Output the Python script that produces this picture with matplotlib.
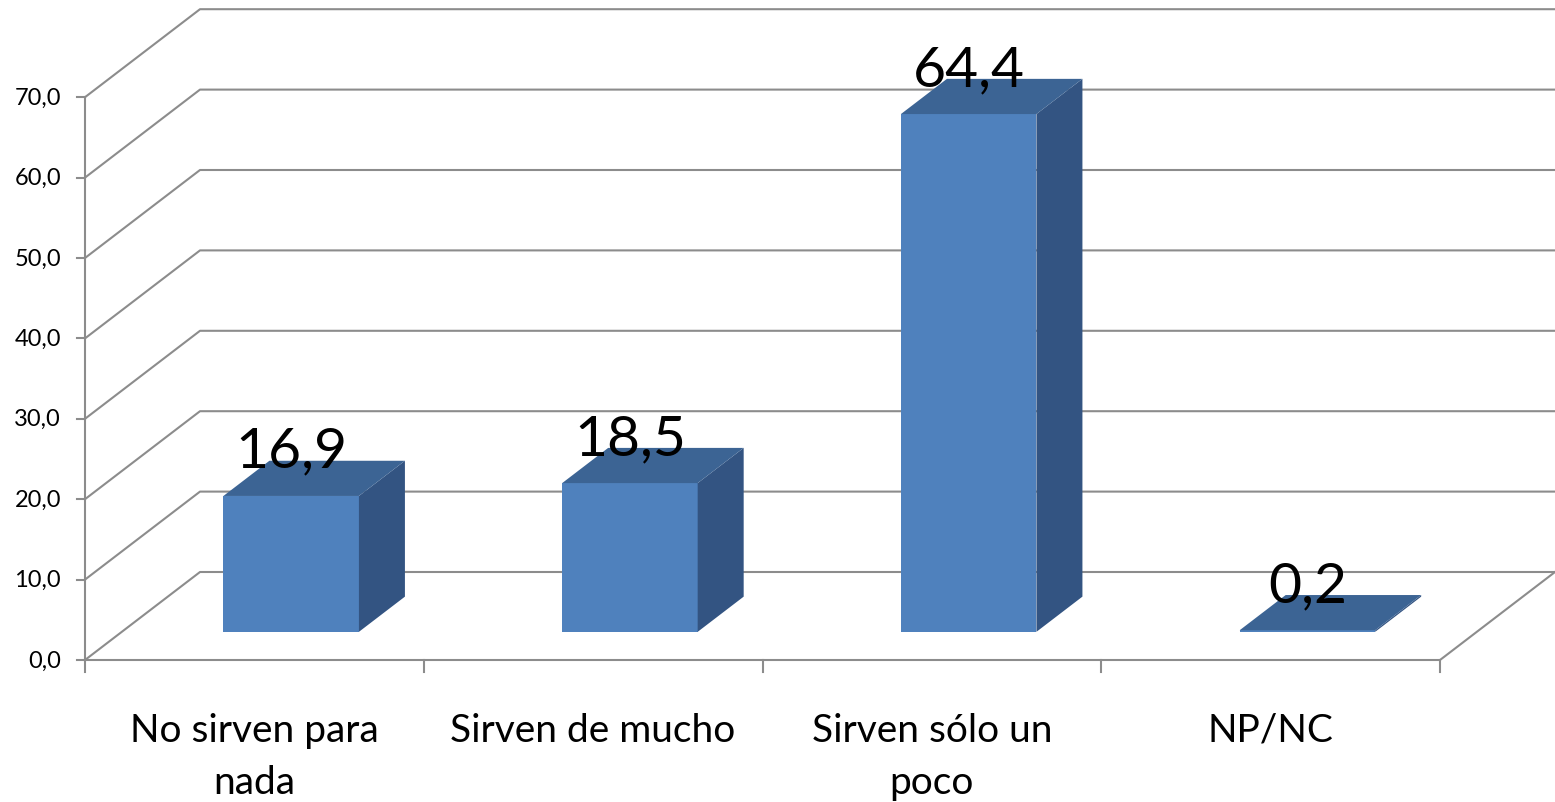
import numpy as np
import matplotlib.pyplot as plt
from matplotlib.patches import Polygon

categories = ["No sirven para\nnada", "Sirven de mucho", "Sirven sólo un\npoco", "NP/NC"]
values = [16.9, 18.5, 64.4, 0.2]
value_labels = ["16,9", "18,5", "64,4", "0,2"]
yticks = np.arange(0, 80, 10)
ytick_labels = ["%d,0" % t for t in yticks]

plt.rcParams['font.family'] = ['Lato', 'DejaVu Sans']

# pixel geometry -> data units (x: category units, y: value units)
PX_X = 338.75
PX_Y = 8.04
X0_PX, Y0_PX = 85, 661
W, H = 1555, 803

fig = plt.figure(figsize=(W / 100, H / 100), dpi=100)
ax = fig.add_axes([0, 0, 1, 1])
ax.set_xlim(-X0_PX / PX_X, (W - X0_PX) / PX_X)
ax.set_ylim(-(H - Y0_PX) / PX_Y, Y0_PX / PX_Y)
ax.axis('off')

# oblique depth offset of the back wall
dx = 115 / PX_X
dy = 88 / PX_Y
n = len(categories)
grid_c = '#8c8c8c'
lw = 1.5

for t in yticks:
    ax.plot([0, dx, n + dx], [t, t + dy, t + dy], color=grid_c, lw=lw, zorder=1)
    ax.plot([-8 / PX_X, 0], [t, t], color=grid_c, lw=lw, zorder=1)
ax.plot([0, 0], [0, yticks[-1]], color=grid_c, lw=lw, zorder=1)
ax.plot([0, n, n + dx], [0, 0, dy], color=grid_c, lw=lw, zorder=1)
for i in range(n + 1):
    ax.plot([i, i], [0, -12 / PX_Y], color=grid_c, lw=lw, zorder=1)

# bars
front_depth = 0.32
bar_depth = 0.40
bar_w = 0.4
front_c = '#4f81bd'
top_c = '#3c6494'
side_c = '#335482'
bdx, bdy = bar_depth * dx, bar_depth * dy
base = front_depth * dy
for i, v in enumerate(values):
    xc = i + 0.5 + front_depth * dx
    x0, x1 = xc - bar_w / 2, xc + bar_w / 2
    top = base + v
    ax.add_patch(Polygon([(x0, base), (x1, base), (x1, top), (x0, top)],
                         closed=True, fc=front_c, ec='none', zorder=3))
    ax.add_patch(Polygon([(x1, base), (x1 + bdx, base + bdy), (x1 + bdx, top + bdy), (x1, top)],
                         closed=True, fc=side_c, ec='none', zorder=3))
    ax.add_patch(Polygon([(x0, top), (x1, top), (x1 + bdx, top + bdy), (x0 + bdx, top + bdy)],
                         closed=True, fc=top_c, ec='none', zorder=3))
    ax.text(xc, top + bdy - 6 / PX_Y, value_labels[i], ha='center', va='baseline',
            fontsize=41, color='black', zorder=4)

for t, lab in zip(yticks, ytick_labels):
    ax.text(-24 / PX_X, t, lab, ha='right', va='center', fontsize=17, color='black')

for i, lab in enumerate(categories):
    ax.text(i + 0.5, -(713 - Y0_PX) / PX_Y, lab, ha='center', va='top',
            fontsize=28, linespacing=1.55, color='black')

fig.savefig('out.png', dpi=100)
